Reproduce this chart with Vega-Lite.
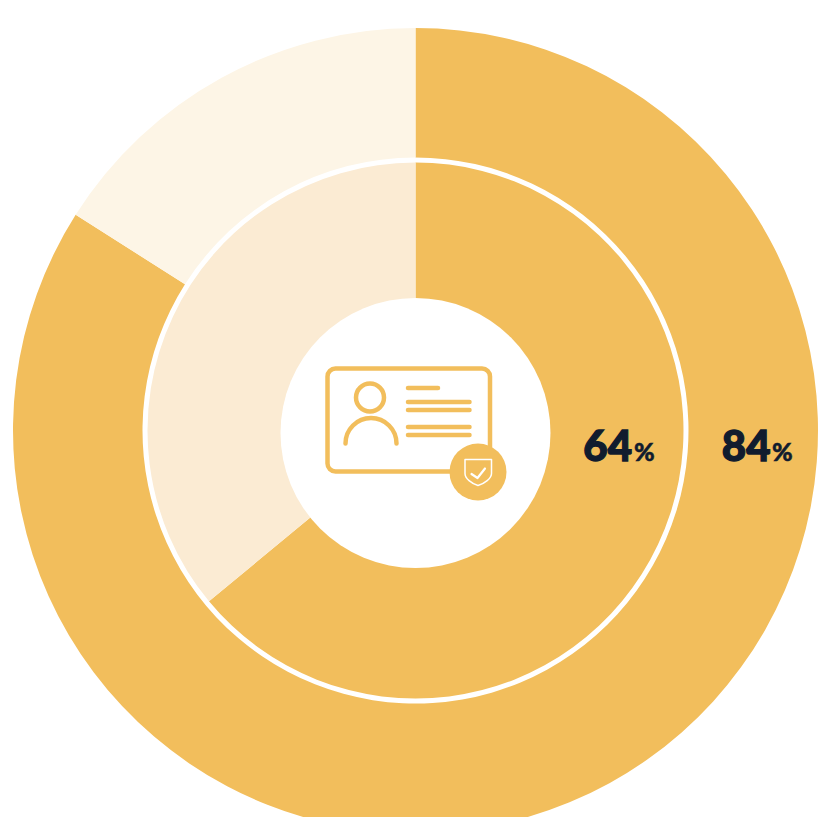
{
  "$schema": "https://vega.github.io/schema/vega-lite/v6.json",
  "width": 819,
  "height": 817,
  "autosize": "none",
  "padding": 0,
  "background": "white",
  "config": {"view": {"stroke": null}},
  "data": {
    "values": [
      {"ring": "outer", "part": "outer covered", "covered": true, "share": 84},
      {"ring": "outer", "part": "outer remainder", "covered": false, "share": 16},
      {"ring": "inner", "part": "inner covered", "covered": true, "share": 64},
      {"ring": "inner", "part": "inner remainder", "covered": false, "share": 36}
    ]
  },
  "encoding": {
    "x": {"datum": 0, "type": "quantitative", "axis": null, "scale": {"domain": [-415.5, 403.5], "nice": false, "zero": false}},
    "y": {"datum": 0, "type": "quantitative", "axis": null, "scale": {"domain": [-430.5, 386.5], "reverse": true, "nice": false, "zero": false}}
  },
  "layer": [
    {
      "transform": [{"filter": "datum.ring === 'outer'"}],
      "mark": {"type": "arc", "radius": 402.5, "radius2": 273},
      "encoding": {
        "theta": {"field": "share", "type": "quantitative", "stack": true, "scale": {"domain": [0, 100]}},
        "order": {"field": "covered", "sort": "descending"},
        "color": {"field": "part", "type": "nominal", "legend": null, "scale": {
          "domain": ["outer covered", "outer remainder", "inner covered", "inner remainder"],
          "range": ["#F2BE5C", "#FDF5E6", "#F2BE5C", "#FBEBD3"]
        }}
      }
    },
    {
      "transform": [{"filter": "datum.ring === 'inner'"}],
      "mark": {"type": "arc", "radius": 268, "radius2": 100},
      "encoding": {
        "theta": {"field": "share", "type": "quantitative", "stack": true, "scale": {"domain": [0, 100]}},
        "order": {"field": "covered", "sort": "descending"},
        "color": {"field": "part", "type": "nominal", "legend": null}
      }
    },
    {
      "description": "Centre hole of the donut, sitting slightly low",
      "data": {"values": [{"element": "hole"}]},
      "mark": {"type": "point", "shape": "circle", "filled": true, "color": "white", "opacity": 1, "size": 72900},
      "encoding": {"y": {"datum": 2.5, "type": "quantitative"}}
    },
    {
      "description": "ID card outline, portrait and text lines",
      "data": {"values": [{"element": "card"}]},
      "mark": {
        "type": "point", "filled": false, "opacity": 1, "size": 4,
        "color": "#F2BE5C", "strokeWidth": 4.5, "strokeCap": "round", "strokeJoin": "round",
        "shape": "M-80,-62H66.5A8,8 0 0 1 74.5,-54V33A8,8 0 0 1 66.5,41H-80A8,8 0 0 1 -88,33V-54A8,8 0 0 1 -80,-62Z M-31.5,-33A14,14 0 1 1 -59.500,-33A14,14 0 1 1 -31.5,-33Z M-70,13A25.500,25.500 0 0 1 -19,13 M-7.5,-42.5H22.500 M-7.5,-28.500H54 M-7.5,-20.500H54 M-7.5,-3.500H54 M-7.5,4.500H54"
      }
    },
    {
      "description": "Round badge on the corner of the card",
      "data": {"values": [{"element": "badge"}]},
      "mark": {"type": "point", "shape": "circle", "filled": true, "color": "#F2BE5C", "opacity": 1, "size": 3249},
      "encoding": {"x": {"datum": 62.5, "type": "quantitative"}, "y": {"datum": 41.5, "type": "quantitative"}}
    },
    {
      "description": "Shield outline inside the badge",
      "data": {"values": [{"element": "shield"}]},
      "mark": {
        "type": "point", "filled": false, "opacity": 1, "size": 4,
        "color": "white", "strokeWidth": 1.5, "strokeCap": "round", "strokeJoin": "round",
        "shape": "M49.5,29H76V43C76,48 69,53 62.500,55C56,53 49.5,48 49.5,43Z"
      }
    },
    {
      "description": "Check mark inside the shield",
      "data": {"values": [{"element": "check"}]},
      "mark": {
        "type": "point", "filled": false, "opacity": 1, "size": 4,
        "color": "white", "strokeWidth": 2.2, "strokeCap": "round", "strokeJoin": "round",
        "shape": "M56,43.500L62,47.500L69.500,38"
      }
    },
    {
      "transform": [{"filter": "datum.part === 'inner covered'"}],
      "mark": {"type": "text", "align": "right", "baseline": "alphabetic", "font": "Lato", "fontWeight": 900, "fontSize": 42, "color": "#111C2E", "stroke": "#111C2E", "strokeWidth": 1.3},
      "encoding": {"x": {"datum": 216.5, "type": "quantitative"}, "y": {"datum": 30.5, "type": "quantitative"}, "text": {"field": "share", "type": "quantitative"}}
    },
    {
      "transform": [{"filter": "datum.part === 'inner covered'"}],
      "mark": {"type": "text", "align": "left", "baseline": "alphabetic", "font": "Lato", "fontWeight": 900, "fontSize": 25, "color": "#111C2E", "stroke": "#111C2E", "strokeWidth": 0.5},
      "encoding": {"x": {"datum": 218.5, "type": "quantitative"}, "y": {"datum": 30.5, "type": "quantitative"}, "text": {"value": "%"}}
    },
    {
      "transform": [{"filter": "datum.part === 'outer covered'"}],
      "mark": {"type": "text", "align": "right", "baseline": "alphabetic", "font": "Lato", "fontWeight": 900, "fontSize": 42, "color": "#111C2E", "stroke": "#111C2E", "strokeWidth": 1.3},
      "encoding": {"x": {"datum": 355, "type": "quantitative"}, "y": {"datum": 30.5, "type": "quantitative"}, "text": {"field": "share", "type": "quantitative"}}
    },
    {
      "transform": [{"filter": "datum.part === 'outer covered'"}],
      "mark": {"type": "text", "align": "left", "baseline": "alphabetic", "font": "Lato", "fontWeight": 900, "fontSize": 25, "color": "#111C2E", "stroke": "#111C2E", "strokeWidth": 0.5},
      "encoding": {"x": {"datum": 356.5, "type": "quantitative"}, "y": {"datum": 30.5, "type": "quantitative"}, "text": {"value": "%"}}
    }
  ]
}
